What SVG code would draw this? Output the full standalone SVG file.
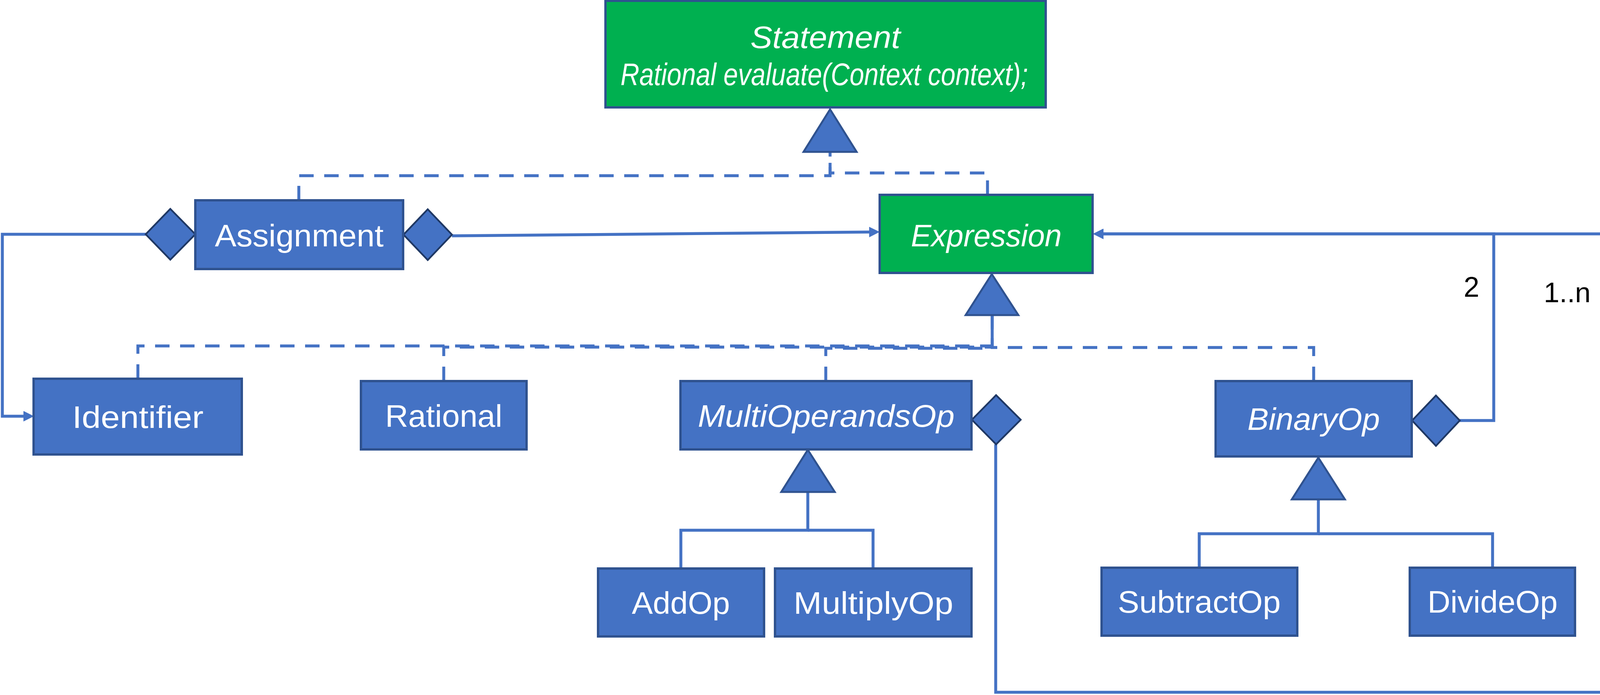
<svg xmlns="http://www.w3.org/2000/svg" width="4125" height="1780" viewBox="0 0 4125 1780">
<style>
.box{fill:#4472C4;stroke:#2F528F;stroke-width:6}
.gbox{fill:#00B050;stroke:#2F528F;stroke-width:6}
.lbl{font-family:"Liberation Sans",Arial,sans-serif;font-size:80px;fill:#FFFFFF;text-anchor:middle}
.it{font-style:italic}
.c{fill:none;stroke:#4472C4;stroke-width:7.5}
.d{stroke-dasharray:37 27}
.tri{fill:#4472C4;stroke:#2F528F;stroke-width:5}
.dia{fill:#4472C4;stroke:#1F3864;stroke-width:4.5}
.mult{font-family:"Liberation Sans",Arial,sans-serif;font-size:72px;fill:#000000;text-anchor:middle}
</style>
<defs>
<marker id="arr" viewBox="0 0 27 27" refX="0" refY="13.5" markerWidth="27" markerHeight="27" markerUnits="userSpaceOnUse" orient="auto">
<path d="M0,0 L27,13.5 L0,27 z" fill="#4472C4"/>
</marker>
</defs>
<rect width="4125" height="1780" fill="#FFFFFF"/>
<g id="connectors">
<path class="c d" d="M765,513 V450 H2125 V389"/>
<path class="c d" d="M2528,499 V443 H2125 V389"/>
<path class="c d" d="M353,970 V886 H2540 V807"/>
<path class="c d" d="M1136,976 V889 H2540 V807"/>
<path class="c d" d="M2114,976 V892 H2540 V807"/>
<path class="c d" d="M3363,976 V890 H2540 V807"/>
<path class="c" d="M1743,1456 V1358 H2068 V1260"/>
<path class="c" d="M2235,1456 V1358 H2068"/>
<path class="c" d="M3070,1454 V1367 H3375 V1279"/>
<path class="c" d="M3821,1454 V1367 H3375"/>
<path class="c" d="M373,600 H6 V1066 H60" marker-end="url(#arr)"/>
<path class="c" d="M1157,604 L2225,594.3" stroke-width="8" marker-end="url(#arr)"/>
<path class="c" d="M3737,1077 H3824 V599 H2825" marker-end="url(#arr)"/>
<path class="c" d="M2549,1138 V1773 H4117 V599 H2825" marker-end="url(#arr)"/>
<polygon class="tri" points="2125,280 2193,389 2057,389"/>
<polygon class="tri" points="2539,702 2607,807 2472,807"/>
<polygon class="tri" points="2068,1152 2137,1260 2000,1260"/>
<polygon class="tri" points="3375,1172 3443,1279 3307,1279"/>
<polygon class="dia" points="436,535 500,600 436,665 373,600"/>
<polygon class="dia" points="1095,536 1157,601 1095,666 1033,601"/>
<polygon class="dia" points="2550,1012 2613,1075 2550,1138 2488,1075"/>
<polygon class="dia" points="3676,1013 3737,1077 3676,1142 3615,1077"/>
<text class="mult" x="3767" y="760">2</text>
<text class="mult" x="4012" y="774">1..n</text>
</g>
<g id="statement">
<rect class="gbox" x="1550" y="2" width="1127" height="273"/>
<text class="lbl it" x="2113" y="123" font-size="84" textLength="384" lengthAdjust="spacingAndGlyphs">Statement</text>
<text class="lbl it" x="2110" y="218" font-size="66" textLength="1043" lengthAdjust="spacingAndGlyphs">Rational evaluate(Context context);</text>
</g>
<g id="assignment">
<rect class="box" x="500" y="513" width="532" height="176"/>
<text class="lbl" x="766" y="631" textLength="432" lengthAdjust="spacingAndGlyphs">Assignment</text>
</g>
<g id="expression">
<rect class="gbox" x="2252" y="499" width="545" height="200"/>
<text class="lbl it" x="2525" y="631" textLength="386" lengthAdjust="spacingAndGlyphs">Expression</text>
</g>
<g id="identifier">
<rect class="box" x="86" y="970" width="533" height="194"/>
<text class="lbl" x="353" y="1096" textLength="336" lengthAdjust="spacingAndGlyphs">Identifier</text>
</g>
<g id="rational">
<rect class="box" x="924" y="976" width="424" height="175"/>
<text class="lbl" x="1136" y="1093" textLength="300" lengthAdjust="spacingAndGlyphs">Rational</text>
</g>
<g id="multioperandsop">
<rect class="box" x="1742" y="976" width="745" height="175"/>
<text class="lbl it" x="2115" y="1093" textLength="657" lengthAdjust="spacingAndGlyphs">MultiOperandsOp</text>
</g>
<g id="binaryop">
<rect class="box" x="3112" y="976" width="502" height="193"/>
<text class="lbl it" x="3363" y="1101" textLength="339" lengthAdjust="spacingAndGlyphs">BinaryOp</text>
</g>
<g id="addop">
<rect class="box" x="1531" y="1456" width="425" height="174"/>
<text class="lbl" x="1743" y="1572" textLength="251" lengthAdjust="spacingAndGlyphs">AddOp</text>
</g>
<g id="multiplyop">
<rect class="box" x="1984" y="1456" width="503" height="174"/>
<text class="lbl" x="2236" y="1572" textLength="409" lengthAdjust="spacingAndGlyphs">MultiplyOp</text>
</g>
<g id="subtractop">
<rect class="box" x="2820" y="1454" width="501" height="174"/>
<text class="lbl" x="3070" y="1569" textLength="417" lengthAdjust="spacingAndGlyphs">SubtractOp</text>
</g>
<g id="divideop">
<rect class="box" x="3609" y="1454" width="423" height="174"/>
<text class="lbl" x="3821" y="1569" textLength="333" lengthAdjust="spacingAndGlyphs">DivideOp</text>
</g>
</svg>
